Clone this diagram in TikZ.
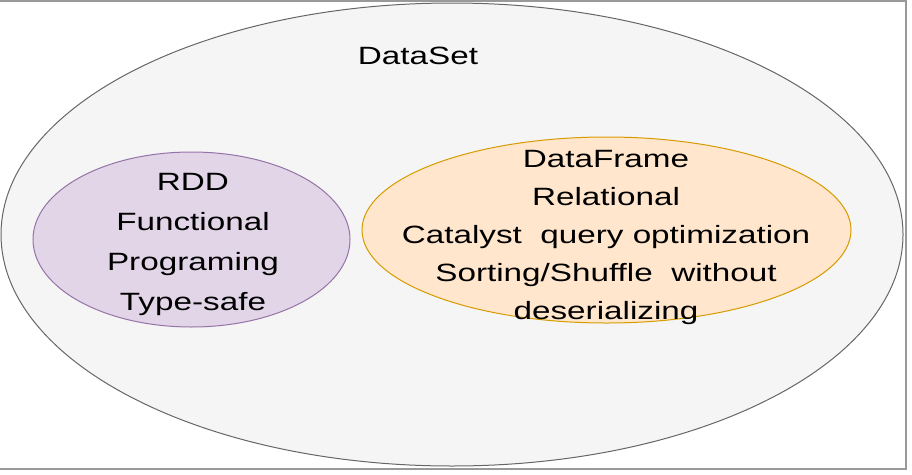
\documentclass[tikz,border=0pt]{standalone}
\usepackage{fontspec}
\setmainfont[FakeStretch=1.33]{Liberation Sans}
\usetikzlibrary{shapes.geometric}
\definecolor{outerfill}{HTML}{F5F5F5}
\definecolor{outerdraw}{HTML}{666666}
\definecolor{rddfill}{HTML}{E1D5E7}
\definecolor{rdddraw}{HTML}{9673A6}
\definecolor{dffill}{HTML}{FFE6CC}
\definecolor{dfdraw}{HTML}{D79B00}
\definecolor{framecol}{HTML}{999999}
\tikzset{
  blob/.style={ellipse, inner sep=0pt, line width=1pt},
  lbl/.style={align=center, inner sep=0pt, font=\fontsize{25}{38}\selectfont, text=black}
}
\begin{document}
\begin{tikzpicture}[x=1pt,y=-1pt]
\useasboundingbox (0,0) rectangle (912,474);
\draw[framecol, line width=2pt] (0,1) -- (906,1) -- (906,469) -- (0,469);
\node[blob, draw=outerdraw, fill=outerfill, minimum width=902pt, minimum height=463pt] (dataset) at (452,234.5) {};
\node[lbl] (dslabel) at (418,56) {DataSet};
\node[blob, draw=rdddraw, fill=rddfill, minimum width=317pt, minimum height=175pt] (rdd) at (191.5,239.5) {};
\node[lbl, font=\fontsize{25}{40}\selectfont] (rddtext) at (193,244) {RDD\\Functional\\Programing\\Type-safe};
\node[blob, draw=dfdraw, fill=dffill, minimum width=489pt, minimum height=186pt] (df) at (606.5,230) {};
\node[lbl] (dftext) at (606,237) {DataFrame\\Relational\\Catalyst~~query optimization\\Sorting/Shuffle~~without\\deserializing};
\end{tikzpicture}
\end{document}
